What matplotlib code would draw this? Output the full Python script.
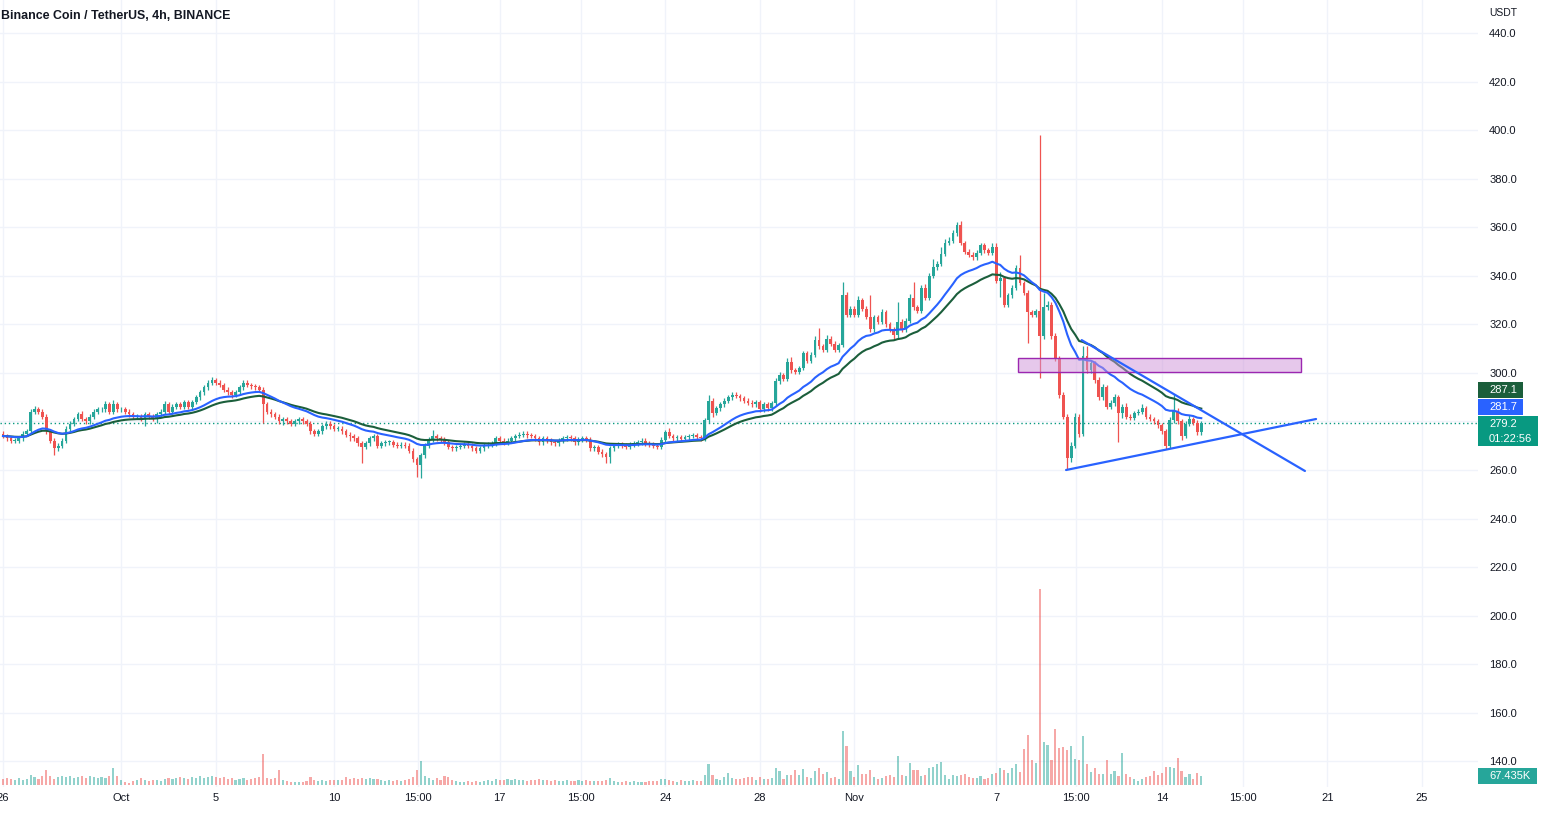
import numpy as np
import pandas as pd
import matplotlib
matplotlib.use("Agg")
import matplotlib.pyplot as plt
from matplotlib.patches import Rectangle

# ---------------- data (4h candles starting Sep 26, 00:00) ----------------
first_open = 275.0
closes = [
    274, 273, 272, 272, 273, 275, 276, 284, 285, 284, 282, 276, 272, 269, 270, 272, 277, 279, 281, 283,
    281, 280, 282, 284, 285, 285, 287, 284, 287, 285, 285, 284, 283,
    282, 282, 281, 283, 282, 281, 283, 284, 287, 284, 286, 287, 286, 288, 286, 288, 290, 292, 294, 296,
    297, 296, 295, 293, 292, 291, 292, 294, 296, 295, 294.5,
    294, 293, 287, 284, 283, 282, 280, 281, 280, 279, 280, 281, 280, 279, 276, 275, 276, 278, 279, 278,
    277, 277, 276, 274.5, 274, 273, 271, 269.5, 271, 273, 274, 270,
    271, 271.5, 271.5, 270.5, 270, 270.5, 270, 268, 264.5, 262, 266, 270, 272.5, 274, 273, 272.5,
    271.5, 269.5, 269, 269.5, 270, 270.5, 270, 269, 268, 269, 270, 270.5, 271, 273, 272, 271.5,
    272, 273, 274, 274.5, 275, 274.3, 274, 273, 271.5, 273, 272, 271.5, 271, 272, 273, 273.5, 273,
    271.5, 272.5, 273, 272.5, 269, 269.5, 267.5, 266.5, 265.5, 269, 270, 270.5, 270, 269.5,
    270.5, 271, 271.5, 272, 271, 270.5, 270, 269.5, 272.5, 275.5, 274, 273, 273.5, 272.8, 273.5, 274,
    274.3, 273.5, 273, 280.5, 288.5, 283.5, 285.5, 287, 288.5, 290, 291, 290.5, 289.5, 288.5, 287.8,
    287, 288, 285, 287, 285.5, 287.5, 296.5, 299, 297.5, 304.5, 301, 300.5, 302, 308, 305, 307.5,
    313.5, 311, 309.5, 314, 312, 309.5, 311.5,
    332, 324, 326.5, 324, 330, 326.5, 323, 318, 323, 321, 325, 320, 318, 315.5, 321, 318, 321.5, 331,
    327, 325.5, 335, 331, 340, 343.5, 345, 349, 353.5, 354.5, 357.5, 361, 353.5, 350, 348.6,
    347.7, 349.5, 352.5, 350.5, 349.5, 352, 338, 339, 328, 332, 335, 343, 337, 333, 325, 324,
    325.5, 315, 327, 328, 315, 306, 291, 282, 265, 270, 282, 275, 307, 301, 304, 297, 290, 294, 286,
    287.5, 290, 283.5, 286, 282, 281.5, 283.5, 284, 285.5, 282, 281, 280, 278.5, 276, 270, 280.5,
    284.5, 280, 274, 279, 281, 279.5, 275.5, 279.2,
]
wick_up = [
    1, 1, 1, 1, 1, 1, 1, 1, 1.5, 1,   1, 1, 1, 1, 1, 1, 1, 1, 1, 1,
    1.5, 1, 1, 1, 1, 1, 1.5, 1, 2, 1,  1, 1, 1, 1, 1, 1, 1, 1, 1, 1,
    1, 1.5, 1, 1, 1, 1, 1, 1, 1, 1,   1, 1, 1, 1.5, 1, 1, 1, 1, 1, 1,
    1, 1, 1, 1, 1, 1, 1, 1, 1, 1,     1, 1, 1, 1, 1, 1, 1, 1, 1, 1,
    1, 1, 1, 1, 1, 1, 1, 1, 1, 1,     1, 1, 1, 1, 1, 1, 1, 1, 1, 1,
    1, 1, 1, 1, 1, 1, 1, 1, 1, 2.5,   1, 1, 1, 1, 1, 1, 1, 1, 1, 1,
    1, 1, 1, 1, 1, 1, 1, 1, 1, 1,     1, 1, 1, 1, 1, 1, 1, 1, 1, 1,
    1, 1, 1, 1, 1, 1, 1, 1, 1, 1,     1, 1, 1, 1, 1, 1, 1, 1, 1, 1,
    1, 1, 1, 1, 1, 1, 1, 1, 1, 1.8,   1, 1, 1, 1, 1, 1, 1, 1, 1, 2.5,
    1, 1, 1, 1, 1, 1, 1, 1, 1, 1,     1, 1, 1, 1, 1, 1, 1.5, 1.4, 1, 1.5,
    2, 1, 1, 1, 1, 1, 1.5, 5, 1, 1.5, 1, 1, 1, 5.5, 1.5, 1, 1, 1.5, 1, 1,
    9, 1, 1, 1.5, 1, 1, 1, 8, 1, 1,   1.5, 6.6, 1, 1, 1.5, 1, 3.5, 1, 3, 1.5,
    1.5, 1.5, 1, 1.5, 1, 1, 1, 1, 1, 1, 1, 1.5, 1.5, 2.6, 1, 1, 1, 1.5, 5.6, 1,
    1, 1, 1, 72.5, 6, 1.5, 1, 1.5, 1, 1, 1, 1.5, 1.5, 1, 4, 4, 1.5, 1, 1.5, 1.5,
    1, 1.5, 1.5, 1, 1, 1.5, 1, 1, 1, 1.5, 1, 1, 1, 1, 1, 1, 1.5, 7, 1, 1,
    1, 1.5, 1, 1, 1,
]
wick_dn = [
    1, 1, 1, 1, 1, 1, 1, 1, 1, 1,     1, 1, 1, 3, 1, 1, 1, 1, 1, 1,
    1, 1, 1, 1, 1, 1, 1, 1, 1, 1,     1, 1, 1, 1, 1, 1, 3, 1, 1, 1.5,
    1, 1, 1, 1, 1, 1, 1, 1, 1, 1,     1, 1, 1, 1, 1, 1, 1, 1, 1.5, 1,
    1, 1, 1, 1, 1, 1, 7.5, 1, 1, 1,   1, 1.5, 1, 1, 1, 1, 1, 1, 1, 1,
    1, 1, 1, 1, 1, 1, 1, 1, 2, 1,     1, 6.5, 1, 1, 1, 1, 1, 1, 1, 1,
    1, 1, 1, 1, 1, 4.7, 5.3, 1, 1, 1, 1, 1, 1, 1, 1, 1, 1, 1, 1, 1,
    1, 1, 1, 1, 1, 1, 1, 1, 1, 1,     1, 1, 1, 1, 1, 1, 1, 1, 1, 1,
    1, 1, 1, 1, 1, 1, 1, 1, 1, 1,     1, 1, 1, 2.5, 2.5, 1, 1, 1, 1, 1,
    1, 1, 1, 1, 1, 1, 1, 1, 1, 1,     1, 1, 1, 1, 1, 1, 1, 1, 1, 1,
    1.5, 1, 1, 1, 1, 1, 1, 1, 1, 1,   1, 1, 1, 1, 1, 1, 1, 1, 1, 1,
    1, 1, 1, 1, 1, 1, 1, 1, 1, 1,     1, 1, 1, 1, 1, 1, 1, 1, 1, 1,
    1, 1, 1, 1, 1, 1, 1.5, 1, 1, 1,   1, 1, 1, 1, 1, 1, 1, 1, 1, 1,
    1, 1, 1, 1, 1, 1, 1, 1, 1, 1,     1, 1, 1, 6.7, 1, 1, 1, 1, 1, 1,
    12.7, 1, 1, 17, 1, 1, 1, 1, 1.5, 1, 4.5, 1.5, 1, 1.5, 1, 1, 1, 1, 1, 1,
    1, 1, 1, 12, 2, 1, 1, 1, 1, 1,    1, 1, 1, 1, 1, 1.5, 1, 1, 1, 1.5,
    1, 1, 1, 1, 1,
]
volume_k = [
    45, 52, 45, 38, 52, 38, 45, 75, 60, 45,   67, 116, 67, 45, 60, 67, 64, 67, 52, 60,
    67, 52, 67, 60, 52, 60, 52, 67, 127, 67,  38, 22, 15, 30, 38, 52, 38, 30, 38, 38,
    30, 45, 52, 45, 52, 60, 52, 45, 60, 52,   71, 52, 60, 67, 60, 52, 60, 45, 52, 38,
    45, 52, 38, 45, 52, 60, 232, 52, 45, 52,  116, 38, 30, 22, 22, 22, 22, 30, 64, 38,
    30, 38, 30, 38, 38, 38, 38, 60, 45, 52,   45, 52, 45, 52, 45, 45, 38, 30, 38, 30,
    38, 30, 38, 45, 60, 116, 184, 71, 52, 38, 52, 38, 71, 60, 38, 30, 22, 22, 30, 22,
    30, 22, 30, 38, 30, 45, 38, 38, 45, 38,   45, 38, 38, 30, 38, 38, 45, 38, 38, 30,
    38, 30, 30, 38, 30, 30, 38, 30, 38, 30,   30, 30,
    30, 38, 52, 30, 22, 22, 30, 22, 30, 22,   22, 22, 30, 30, 30, 45, 45, 38, 30, 22,
    38, 30, 30, 38, 30, 30, 75, 157, 75, 45,  38, 60, 90, 52, 45, 45, 52, 60, 60, 38,
    60, 45, 45, 52, 127, 105, 45, 75, 75, 112, 75, 120, 60, 52, 105, 127, 82, 97, 52, 60,
    45, 405, 292, 105, 60, 150, 82, 82, 112, 60, 45, 52, 67, 75, 60, 217, 75, 67, 165, 112,
    112, 67, 75, 127, 135, 157, 172, 75, 45, 75, 67, 75, 82, 60, 52, 52, 67, 45, 52, 82,
    90, 127, 112, 90, 127, 157, 97, 270, 375, 187, 165, 1470, 322, 300, 187, 420, 277, 285, 262, 292,
    195, 187, 367, 157, 97, 127, 82, 82, 187, 82, 105, 67, 240, 82, 60, 45, 30, 45, 60, 67,
    105, 75, 90, 135, 135, 127, 202, 105, 60, 82, 45, 90, 67.435,
]
last_price = 279.2
ema_fast_len, ema_slow_len = 20, 30

price_ticks = list(range(140, 441, 20))
x_tick_days = [0, 5, 9, 14, 17.55, 21, 24.44, 28, 32, 36, 42, 45.37, 49, 52.43, 56, 60]
x_tick_labels = ["26", "Oct", "5", "10", "15:00", "17", "15:00", "24", "28", "Nov", "7",
                 "15:00", "14", "15:00", "21", "25"]

zone = (42.9, 54.9, 300.4, 306.1)              # day start, day end, low, high
trend_down = ((45.61, 313.5), (55.05, 259.6))
trend_up = ((44.95, 260.0), (55.52, 281.0))

title = "Binance Coin / TetherUS, 4h, BINANCE"
tag_texts = ["287.1", "281.7", "279.2", "01:22:56", "67.435K"]

# ---------------- styling ----------------
UP, DOWN = "#26a69a", "#ef5350"
BLUE, DKGREEN = "#2962ff", "#1b5e3b"
TXT = "#131722"
GRID = "#f0f3fa"
plt.rcParams["font.family"] = ["Liberation Sans", "DejaVu Sans"]

W, H = 1546, 813
PLOT_R, PLOT_B = 1478, 787
fig = plt.figure(figsize=(W / 100, H / 100), dpi=100)
fig.patch.set_facecolor("white")
ax = fig.add_axes([0, 1 - PLOT_B / H, PLOT_R / W, PLOT_B / H])

X0, PXD = 3.0, 23.65          # pixel offset / pixels per day
PY0, PPP = 33.0, 2.4278        # pixel of 440 / pixels per price unit
ax.set_xlim(-X0 / PXD, (PLOT_R - X0) / PXD)
ax.set_ylim(440 - (PLOT_B - PY0) / PPP, 440 + PY0 / PPP)

c = np.array(closes, float)
n = len(c)
t = np.arange(n) / 6.0
o = np.r_[first_open, c[:-1]]
hi = np.maximum(o, c) + np.array(wick_up, float)
lo = np.minimum(o, c) - np.array(wick_dn, float)
col = np.where(c >= o, UP, DOWN)

ax.vlines(t, lo, hi, colors=col, linewidth=0.9, zorder=3)
ax.bar(t, np.maximum(np.abs(c - o), 0.3), bottom=np.minimum(o, c), width=0.115,
       color=col, linewidth=0, zorder=4)

ema_f = pd.Series(c).ewm(span=ema_fast_len, adjust=False).mean()
ema_s = pd.Series(c).ewm(span=ema_slow_len, adjust=False).mean()
ax.plot(t, ema_s, color=DKGREEN, lw=1.5, zorder=5)
ax.plot(t, ema_f, color=BLUE, lw=1.5, zorder=5)

ax.axhline(last_price, color="#089981", lw=1, ls=(0, (1, 2)), zorder=2)

ax.add_patch(Rectangle((zone[0], zone[2]), zone[1] - zone[0], zone[3] - zone[2],
                       facecolor="#ce93d8", alpha=0.5, edgecolor="none", zorder=6))
ax.add_patch(Rectangle((zone[0], zone[2]), zone[1] - zone[0], zone[3] - zone[2],
                       facecolor="none", edgecolor="#9c27b0", lw=1, zorder=6))
for (p, q) in (trend_down, trend_up):
    ax.plot([p[0], q[0]], [p[1], q[1]], color=BLUE, lw=1.6, zorder=7, solid_capstyle="round")

# volume
axv = ax.twinx()
axv.set_ylim(-14, 67.435 * PLOT_B / 9)
vcol = np.where(c >= o, UP, DOWN)
axv.bar(t, volume_k, width=0.09, color=vcol, alpha=0.5, linewidth=0, zorder=2)
axv.set_yticks([])
for s in axv.spines.values():
    s.set_visible(False)

# axes styling
for s in ax.spines.values():
    s.set_visible(False)
ax.yaxis.tick_right()
ax.set_yticks(price_ticks)
ax.set_yticklabels([f"{v:.1f}" for v in price_ticks])
ax.set_xticks(x_tick_days)
ax.set_xticklabels(x_tick_labels)
ax.tick_params(axis="y", length=0, pad=8, labelsize=8, labelcolor=TXT)
ax.tick_params(axis="x", length=0, pad=4.5, labelsize=8, labelcolor=TXT)
ax.grid(True, color=GRID, lw=1, zorder=0)
ax.set_axisbelow(True)

fig.text(1489 / W, 1 - 13 / H, "USDT", fontsize=7.5, color=TXT, va="center", ha="left")
fig.text(1 / W, 1 - 16 / H, title, fontsize=8.9, color=TXT, va="center", ha="left",
         fontweight="bold")


def tag(x0, y0, x1, y1, color, lines):
    fig.add_artist(Rectangle((x0 / W, 1 - y1 / H), (x1 - x0) / W, (y1 - y0) / H,
                             transform=fig.transFigure, facecolor=color, edgecolor="none"))
    step = (y1 - y0) / len(lines)
    for i, s in enumerate(lines):
        fig.text(1489 / W, 1 - (y0 + step * (i + 0.5)) / H, s, fontsize=8, color="white",
                 va="center", ha="left")


tag(1478, 382, 1523, 398, DKGREEN, [tag_texts[0]])
tag(1478, 399, 1523, 415, BLUE, [tag_texts[1]])
tag(1478, 416, 1538, 446, "#089981", [tag_texts[2], tag_texts[3]])
tag(1478, 768, 1537, 784, "#26a69a", [tag_texts[4]])

fig.savefig("out.png", dpi=100)
